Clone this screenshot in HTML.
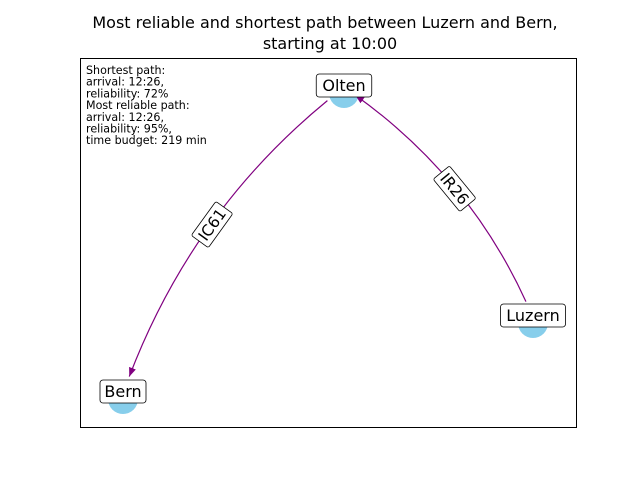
<!DOCTYPE html>
<html><head><meta charset="utf-8"><style>
body{margin:0;background:#fff}
svg{display:block;font-family:"DejaVu Sans","Liberation Sans",sans-serif}
</style></head><body>
<svg id="chart" width="640" height="480" viewBox="0 0 640 480">
<defs><marker id="arr" viewBox="0 0 10 10" refX="10" refY="5" markerWidth="9" markerHeight="9" markerUnits="userSpaceOnUse" orient="auto"><path d="M0,1 L10,5 L0,9 z" fill="#800080"/></marker></defs>
<text x="325" y="28" text-anchor="middle" font-size="16">Most reliable and shortest path between Luzern and Bern,</text>
<text x="330" y="49" text-anchor="middle" font-size="16">starting at 10:00</text>
<rect x="80.5" y="58.5" width="496" height="369" fill="none" stroke="#000" stroke-width="1"/>
<g id="nodes"></g>
<g id="edges"></g>
<g id="labels"></g>
<g id="info" font-size="11.1"></g>
</svg>
<script>
const nodeNames=["Olten","Luzern","Bern"];
const nodeX=[344,533,123];
const nodeY=[87,317,393];
const edgeFrom=[1,0];
const edgeTo=[0,2];
const edgeLabels=["IR26","IC61"];
const edgeBend=[-0.14,-0.14];
const infoLines=["Shortest path:","arrival: 12:26,","reliability: 72%","Most reliable path:","arrival: 12:26,","reliability: 95%,","time budget: 219 min"];
const NS="http://www.w3.org/2000/svg";
function mk(t,a,p){const e=document.createElementNS(NS,t);for(const k in a)e.setAttribute(k,a[k]);p.appendChild(e);return e;}
const gN=document.getElementById('nodes'),gE=document.getElementById('edges'),gL=document.getElementById('labels'),gI=document.getElementById('info');
nodeNames.forEach((n,i)=>{
 const c=mk('circle',{cx:nodeX[i],cy:nodeY[i]+6,r:15,fill:'#87ceeb'},gN);
 
 
});
edgeFrom.forEach((f,k)=>{
 const t=edgeTo[k];
 const x0=nodeX[f],y0=nodeY[f],x2=nodeX[t],y2=nodeY[t];
 const dx=x2-x0,dy=y2-y0;
 const cx=(x0+x2)/2+dy*edgeBend[k], cy=(y0+y2)/2-dx*edgeBend[k];
 const q=(s)=>[(1-s)*(1-s)*x0+2*(1-s)*s*cx+s*s*x2,(1-s)*(1-s)*y0+2*(1-s)*s*cy+s*s*y2];
 const s0=0.055,s1=0.955;
 const a=q(s0),b=q(s1);
 // control point of sub-curve [s0,s1]
 const lerp=(p,r,s)=>[p[0]+(r[0]-p[0])*s,p[1]+(r[1]-p[1])*s];
 const c0=lerp([x0,y0],[cx,cy],s0), c1=lerp([cx,cy],[x2,y2],s0);
 const c0b=lerp([x0,y0],[cx,cy],s1), c1b=lerp([cx,cy],[x2,y2],s1);
 // intersection of tangents at a and b approximated by the pair
 const sc=[(c1[0]+c0b[0])/2,(c1[1]+c0b[1])/2];
 const p=mk('path',{d:`M${a[0]},${a[1]} Q${sc[0]},${sc[1]} ${b[0]},${b[1]}`,fill:'none',stroke:'#800080','stroke-width':1.2,'marker-end':'url(#arr)'},gE);
 
 
 const m=q(0.5),m1=q(0.45),m2=q(0.55);
 let ang=Math.atan2(m2[1]-m1[1],m2[0]-m1[0])*180/Math.PI;
 if(ang>90)ang-=180; if(ang<-90)ang+=180;
 const g=mk('g',{transform:`translate(${m[0]},${m[1]}) rotate(${ang})`},gL);
 
 
 mk('rect',{x:-21,y:-10.5,width:42,height:21,rx:2,fill:'#fff',stroke:'#000','stroke-width':0.8},g);
 const tx=mk('text',{x:0,y:5.5,'text-anchor':'middle','font-size':15.5},g);tx.textContent=edgeLabels[k];
});
nodeNames.forEach((n,i)=>{
 const w=n.length*9.5+8;
 const g=mk('g',{transform:`translate(${nodeX[i]},${nodeY[i]-2})`},gL);
 
 
 mk('rect',{x:-w/2,y:-11,width:w,height:23,rx:3,fill:'#fff',stroke:'#000','stroke-width':0.8},g);
 const tx=mk('text',{x:0,y:6,'text-anchor':'middle','font-size':16},g);tx.textContent=n;
});
infoLines.forEach((s,i)=>{
 const t=mk('text',{x:86,y:74+i*11.7},gI);t.textContent=s;
 
 
});
</script>
</body></html>
